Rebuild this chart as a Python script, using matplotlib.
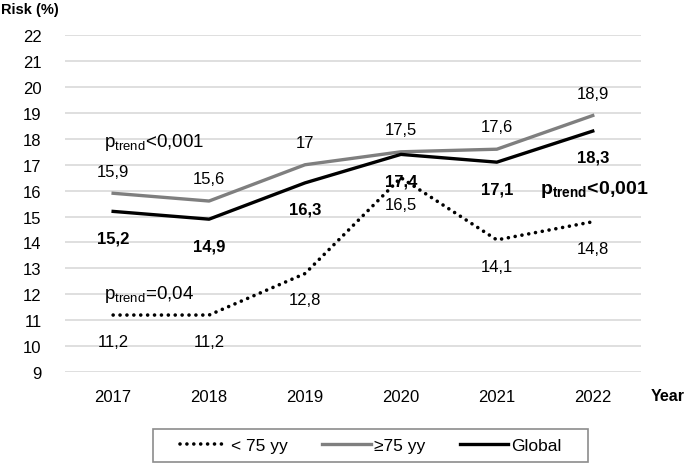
import matplotlib.pyplot as plt
import matplotlib.patches as mpatches
import numpy as np

plt.rcParams['font.family'] = ['Liberation Sans', 'DejaVu Sans']
plt.rcParams['mathtext.fontset'] = 'custom'
plt.rcParams['mathtext.rm'] = 'Liberation Sans'
plt.rcParams['mathtext.bf'] = 'Liberation Sans:bold'

lata = ['2017', '2018', '2019', '2020', '2021', '2022']
ponizej_75 = [11.2, 11.2, 12.8, 16.5, 14.1, 14.8]
powyzej_75 = [15.9, 15.6, 17.0, 17.5, 17.6, 18.9]
globalnie = [15.2, 14.9, 16.3, 17.4, 17.1, 18.3]

def fmt(v):
    s = f"{v:.1f}".replace('.', ',')
    return s[:-2] if s.endswith(',0') else s

fig = plt.figure(figsize=(6.86, 4.64), dpi=100)
ax = fig.add_axes([0.095, 0.196, 0.839, 0.726])

x = np.arange(len(lata))
l1, = ax.plot(x, ponizej_75, color='black', lw=2.6, linestyle=(0, (0.01, 1.9)),
              dash_capstyle='round', label='< 75 yy')
l2, = ax.plot(x, powyzej_75, color='#7f7f7f', lw=2.4, label='≥75 yy')
l3, = ax.plot(x, globalnie, color='black', lw=2.4, label='Global')

for i in range(len(lata)):
    ax.annotate(fmt(powyzej_75[i]), (x[i], powyzej_75[i]), xytext=(0, 16),
                textcoords='offset points', ha='center', va='center', fontsize=12)
    ax.annotate(fmt(globalnie[i]), (x[i], globalnie[i]), xytext=(0, -19),
                textcoords='offset points', ha='center', va='center', fontsize=12,
                fontweight='bold')
    ax.annotate(fmt(ponizej_75[i]), (x[i], ponizej_75[i]), xytext=(0, -19),
                textcoords='offset points', ha='center', va='center', fontsize=12)

ax.text(-0.1, 17.9, r'p$_{\mathrm{trend}}$<0,001', fontsize=13.5, va='center', ha='left')
ax.text(-0.1, 12.05, r'p$_{\mathrm{trend}}$=0,04', fontsize=13.5, va='center', ha='left')
ax.text(4.45, 16.1, r'p$_{\mathbf{trend}}$<0,001', fontsize=14, fontweight='bold',
        va='center', ha='left')

ax.set_xlim(-0.5, 5.5)
ax.set_ylim(9, 22)
ax.set_yticks(range(9, 23))
ax.set_xticks(x)
ax.set_xticklabels(lata)
ax.tick_params(length=0, labelsize=12, pad=12)
ax.tick_params(axis='y', pad=17)
ax.grid(axis='y', color='#d9d9d9', lw=1.2)
ax.set_axisbelow(True)
for s in ax.spines.values():
    s.set_visible(False)

fig.text(0.002, 0.978, 'Risk (%)', fontsize=10.5, fontweight='bold', ha='left', va='center')
fig.text(0.948, 0.146, 'Year', fontsize=11.5, fontweight='bold', ha='left', va='center')

# ramka legendy
ramka = mpatches.Rectangle((153 / 686, 1 - 463 / 464), 435 / 686, 33 / 464,
                           transform=fig.transFigure, facecolor='white',
                           edgecolor='#8c8c8c', lw=1.2)
fig.patches.append(ramka)

leg = fig.legend(handles=[l1, l2, l3], loc='center', bbox_to_anchor=(0.54, 0.037), ncol=3,
                 frameon=False, fontsize=12.5,
                 handlelength=2.8, columnspacing=2.0, handletextpad=0.15,
                 borderpad=0.3)

plt.savefig('out.png', dpi=100)
